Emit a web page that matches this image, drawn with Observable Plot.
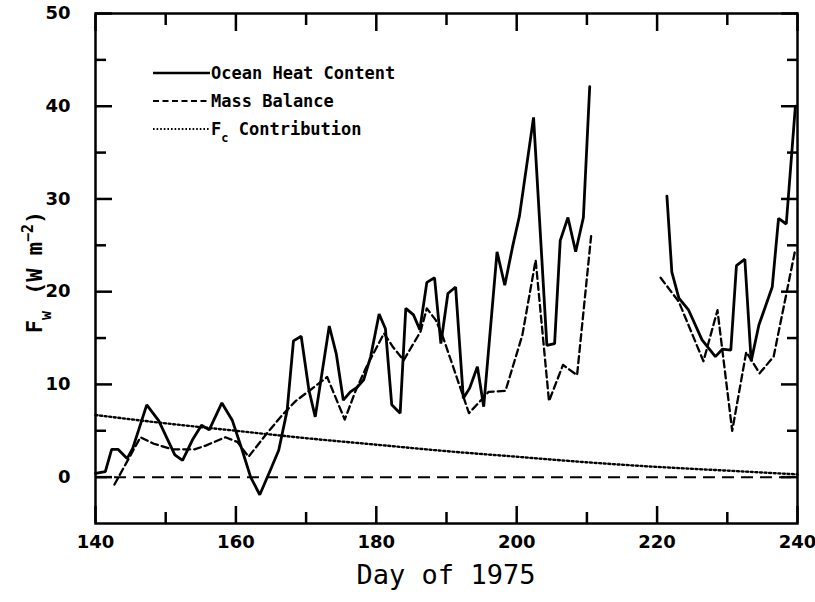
<!DOCTYPE html>
<html><head><meta charset="utf-8">
<script src="https://cdn.jsdelivr.net/npm/d3@7"></script>
<script src="https://cdn.jsdelivr.net/npm/@observablehq/plot@0.6"></script>
<style>body{margin:0;background:#fff} #chart{position:relative;width:815px;height:602px}</style>
</head><body><div id="chart"></div>
<script>
// Ocean Heat Content (solid), two segments
const ohcDays1 = [140.0,141.4,142.3,143.2,144.5,145.3,147.3,149.0,151.3,152.4,153.8,155.1,156.2,158.0,159.5,160.9,162.1,163.4,164.9,166.1,167.3,168.2,169.3,170.4,171.3,173.3,174.3,175.3,176.3,177.3,178.2,179.2,180.4,181.3,182.2,183.4,184.2,185.3,186.2,187.2,188.3,189.2,190.2,191.3,192.4,193.3,194.4,195.3,197.2,198.3,199.4,200.4,202.4,204.3,205.4,206.2,207.3,208.4,209.5,210.4];
const ohcVals1 = [0.4,0.6,3.0,3.0,2.0,3.1,7.8,6.1,2.4,1.8,4.0,5.6,5.1,8.0,6.1,2.9,0.0,-1.9,0.75,2.9,7.2,14.7,15.2,9.4,6.5,16.3,13.3,8.3,9.2,9.7,10.5,13.0,17.6,16.0,7.8,6.9,18.2,17.5,15.9,21.0,21.5,14.4,19.8,20.5,8.5,9.6,11.9,7.6,24.3,20.7,24.8,28.2,38.8,14.2,14.4,25.5,28.0,24.3,28.0,42.1];
const ohcDays2 = [221.4,222.1,223.1,224.5,226.4,228.3,229.3,230.5,231.3,232.5,233.4,234.5,236.4,237.3,238.4,239.7];
const ohcVals2 = [30.3,22.1,19.3,18.0,14.8,13.0,13.8,13.7,22.8,23.5,12.5,16.4,20.5,27.9,27.3,40.0];
// Mass Balance (dashed), two segments
const mbDays1 = [142.7,146.4,148.3,151.0,154.1,155.7,158.5,160.2,161.8,164.4,166.6,168.5,170.6,173.0,175.5,177.1,178.6,181.1,182.4,183.9,186.3,187.2,188.5,189.5,193.2,194.8,196.0,198.4,200.8,202.7,204.6,206.6,208.6,210.6];
const mbVals1 = [-0.8,4.3,3.6,3.0,3.0,3.4,4.3,3.8,2.2,4.7,6.7,8.2,9.4,10.8,6.2,9.4,11.9,15.5,14.0,12.6,15.7,18.2,16.9,15.1,6.9,8.2,9.2,9.3,15.3,23.4,8.2,12.1,11.0,26.0];
const mbDays2 = [220.5,223.1,226.6,228.6,230.7,232.7,234.6,236.6,238.5,239.7];
const mbVals2 = [21.5,18.9,12.5,18.0,5.0,13.5,11.2,13.0,20.1,24.6];
// Fc contribution (dotted)
const fcDays = [140,150,160,170,180,190,200,210,220,230,240];
const fcVals = [6.7,5.8,5.0,4.2,3.5,2.8,2.2,1.6,1.1,0.7,0.3];
// Reference zero line
const zeroLine = [0];
// Ticks
const xMajorTicks = [140,160,180,200,220,240];
const xMinorTicks = [150,170,190,210,230];
const yMajorTicks = [0,10,20,30,40,50];
const yMinorTicks = [5,15,25,35,45];
const legendLabels = ["Ocean Heat Content","Mass Balance","Contribution"];

const rows = (days, vals, seg) => days.map((d,i) => ({day:d, val:vals[i], seg}));
const ohc = [...rows(ohcDays1, ohcVals1, "a"), ...rows(ohcDays2, ohcVals2, "b")];
const mb = [...rows(mbDays1, mbVals1, "a"), ...rows(mbDays2, mbVals2, "b")];
const fc = rows(fcDays, fcVals, "a");

const W = 2.5;
const axisStyle = {strokeWidth: W, label: null};
const chart = Plot.plot({
  width: 815, height: 602,
  marginLeft: 95, marginRight: 18, marginTop: 13, marginBottom: 79,
  style: {fontFamily: "DejaVu Sans", fontSize: "18px", fontWeight: "bold", color: "#000", background: "#fff"},
  x: {domain: [140, 240], axis: null},
  y: {domain: [-5, 50], axis: null},
  marks: [
    Plot.ruleY(zeroLine, {stroke: "#000", strokeWidth: 2, strokeDasharray: "12,7"}),
    Plot.line(fc, {x: "day", y: "val", stroke: "#000", strokeWidth: 2.4, strokeDasharray: "2,2.6", curve: "monotone-x"}),
    Plot.line(mb, {x: "day", y: "val", z: "seg", stroke: "#000", strokeWidth: 2.3, strokeDasharray: "7,4"}),
    Plot.line(ohc, {x: "day", y: "val", z: "seg", stroke: "#000", strokeWidth: 2.8, strokeLinejoin: "miter"}),
    Plot.axisX(xMajorTicks, {anchor: "bottom", tickSize: -17, tickPadding: 29, ...axisStyle}),
    Plot.axisX(xMinorTicks, {anchor: "bottom", tickSize: -11, tickFormat: () => "", ...axisStyle}),
    Plot.axisX(xMajorTicks, {anchor: "top", tickSize: -17, tickFormat: () => "", ...axisStyle}),
    Plot.axisX(xMinorTicks, {anchor: "top", tickSize: -11, tickFormat: () => "", ...axisStyle}),
    Plot.axisY(yMajorTicks, {anchor: "left", tickSize: -17, tickPadding: 42, ...axisStyle}),
    Plot.axisY(yMinorTicks, {anchor: "left", tickSize: -11, tickFormat: () => "", ...axisStyle}),
    Plot.axisY(yMajorTicks, {anchor: "right", tickSize: -17, tickFormat: () => "", ...axisStyle}),
    Plot.axisY(yMinorTicks, {anchor: "right", tickSize: -11, tickFormat: () => "", ...axisStyle}),
    Plot.frame({stroke: "#000", strokeWidth: 2.5})
  ]
});
document.getElementById("chart").appendChild(chart);

const svg = d3.select(chart);
const mono = "DejaVu Sans Mono";
// x title
svg.append("text").attr("x", 446).attr("y", 584).attr("text-anchor", "middle")
  .attr("font-family", mono).attr("font-size", 27).attr("font-weight", "normal").attr("fill", "#000")
  .text("Day of 1975");
// y title
const yt = svg.append("text").attr("transform", "translate(42,272) rotate(-90)").attr("text-anchor", "middle")
  .attr("font-family", mono).attr("font-size", 22).attr("font-weight", "bold").attr("fill", "#000");
yt.append("tspan").text("F");
yt.append("tspan").attr("baseline-shift", "sub").attr("font-size", 15).text("w");
yt.append("tspan").attr("dx", 16).text("(W\u00a0m");
yt.append("tspan").attr("baseline-shift", "super").attr("font-size", 15).text("\u22122");
yt.append("tspan").text(")");
// legend
const leg = svg.append("g").attr("font-family", mono).attr("font-size", 17).attr("font-weight", "bold")
  .attr("fill", "#000").attr("text-anchor", "start");
const dashes = [null, "6,3.5", "1.6,2"];
const lw = [2.5, 2.2, 2];
legendLabels.forEach((lab, i) => {
  const y = 73 + i * 28;
  leg.append("line").attr("x1", 153).attr("x2", 210).attr("y1", y).attr("y2", y)
    .attr("stroke", "#000").attr("stroke-width", lw[i]).attr("stroke-dasharray", dashes[i]);
  const t = leg.append("text").attr("x", 211).attr("y", y).attr("dy", "0.36em").attr("text-anchor", "start");
  if (i === 2) {
    t.append("tspan").text("F");
    t.append("tspan").attr("baseline-shift", "sub").attr("font-size", 12).text("c");
    t.append("tspan").text("\u00a0" + lab);
  } else t.text(lab);
});
</script></body></html>
